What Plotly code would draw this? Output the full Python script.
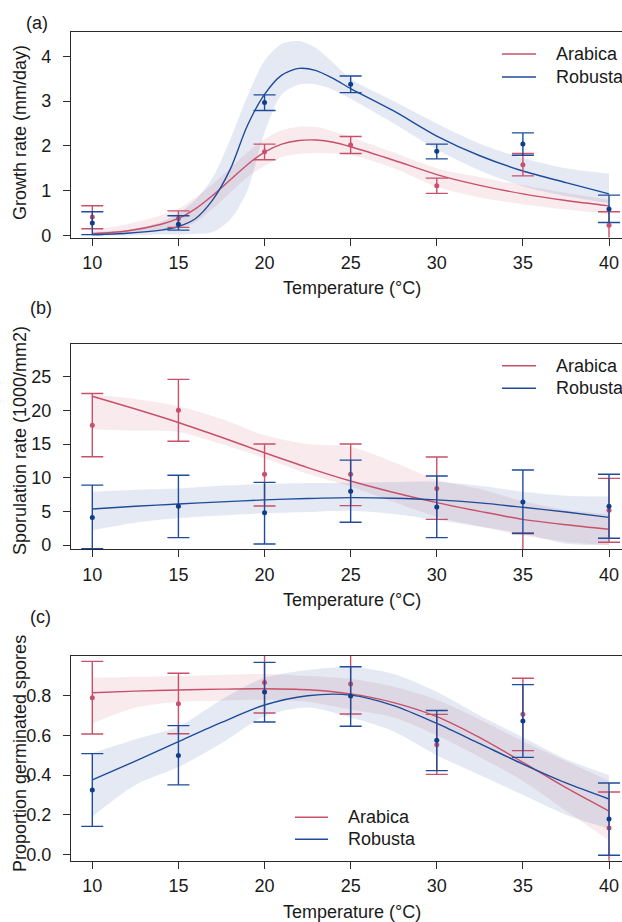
import plotly.graph_objects as go

# ---------------- data ----------------
TEMPS = [10, 15, 20, 25, 30, 35, 40]

# (a) growth rate (mm/day): observed means and interval limits
GROWTH_ARA_MEAN = [0.41, 0.38, 1.87, 2.02, 1.11, 1.58, 0.23]
GROWTH_ARA_LO = [0.15, 0.18, 1.69, 1.83, 0.94, 1.33, -0.10]
GROWTH_ARA_HI = [0.665, 0.55, 2.04, 2.21, 1.28, 1.83, 0.53]
GROWTH_ROB_MEAN = [0.28, 0.25, 2.97, 3.375, 1.88, 2.04, 0.59]
GROWTH_ROB_LO = [0.02, 0.12, 2.79, 3.19, 1.71, 1.79, 0.29]
GROWTH_ROB_HI = [0.53, 0.44, 3.14, 3.56, 2.04, 2.29, 0.90]

# (a) fitted curves and credible bands
FIT_T_A = [10, 12, 14, 15, 16, 17, 18, 19, 20, 21, 22, 23, 24, 25, 27.5, 30, 32.5, 35, 37.5, 40]
GROWTH_ROB_FIT = [0.02, 0.05, 0.12, 0.2, 0.38, 0.8, 1.47, 2.45, 3.15, 3.58, 3.73, 3.68, 3.5, 3.28, 2.78, 2.22, 1.78, 1.44, 1.18, 0.93]
GROWTH_ROB_BAND_HI = [0.08, 0.12, 0.3, 0.5, 0.8, 1.3, 2.14, 3.1, 3.9, 4.28, 4.34, 4.18, 3.85, 3.5, 3.0, 2.5, 2.05, 1.73, 1.5, 1.38]
GROWTH_ROB_BAND_LO = [0.0, 0.0, 0.02, 0.02, 0.04, 0.08, 0.35, 1.0, 2.3, 3.15, 3.37, 3.37, 3.25, 3.05, 2.5, 1.92, 1.45, 1.1, 0.88, 0.72]
GROWTH_ARA_FIT = [0.04, 0.1, 0.25, 0.38, 0.6, 0.9, 1.24, 1.58, 1.86, 2.04, 2.12, 2.13, 2.08, 1.98, 1.68, 1.36, 1.12, 0.93, 0.78, 0.66]
GROWTH_ARA_BAND_HI = [0.12, 0.25, 0.45, 0.6, 0.85, 1.15, 1.5, 1.85, 2.15, 2.35, 2.43, 2.42, 2.32, 2.2, 1.85, 1.5, 1.3, 1.12, 0.95, 0.8]
GROWTH_ARA_BAND_LO = [0.0, 0.03, 0.1, 0.15, 0.3, 0.6, 0.95, 1.3, 1.55, 1.75, 1.82, 1.84, 1.83, 1.8, 1.5, 1.09, 0.85, 0.7, 0.58, 0.48]

# (b) sporulation rate (1000/mm2)
SPOR_ARA_MEAN = [17.8, 20.0, 10.5, 10.5, 8.4, -2.0, 5.15]
SPOR_ARA_LO = [13.1, 15.4, 5.8, 5.85, 3.8, -5.8, 0.4]
SPOR_ARA_HI = [22.5, 24.6, 15.0, 15.0, 13.07, 1.8, 9.9]
SPOR_ROB_MEAN = [4.1, 5.75, 4.8, 7.97, 5.64, 6.39, 5.74]
SPOR_ROB_LO = [-0.55, 1.1, 0.15, 3.37, 1.1, 1.7, 1.0]
SPOR_ROB_HI = [8.9, 10.35, 9.3, 12.6, 10.25, 11.14, 10.5]

FIT_T_B = [10, 12.5, 15, 17.5, 20, 22.5, 25, 27.5, 30, 32.5, 35, 37.5, 40]
SPOR_ARA_FIT = [22.1, 20.2, 18.2, 16.0, 13.7, 11.5, 9.5, 7.8, 6.3, 5.0, 3.8, 3.0, 2.33]
SPOR_ARA_BAND_HI = [22.3, 21.7, 20.6, 18.7, 16.3, 15.0, 14.6, 12.3, 9.7, 8.3, 6.5, 5.2, 4.6]
SPOR_ARA_BAND_LO = [17.2, 17.0, 16.8, 15.0, 12.9, 10.6, 8.7, 6.4, 4.2, 2.8, 1.4, 0.5, 0.0]
SPOR_ROB_FIT = [5.35, 5.75, 6.1, 6.4, 6.7, 6.9, 7.03, 6.95, 6.7, 6.25, 5.6, 4.9, 4.1]
SPOR_ROB_BAND_HI = [7.9, 8.2, 8.4, 8.8, 9.06, 9.2, 9.26, 9.35, 9.4, 8.8, 7.9, 7.3, 7.2]
SPOR_ROB_BAND_LO = [2.2, 3.3, 4.0, 4.4, 4.7, 4.9, 5.1, 4.6, 3.7, 2.7, 1.7, 0.2, 0.0]

# (c) proportion germinated spores
GERM_ARA_MEAN = [0.79, 0.76, 0.866, 0.859, 0.553, 0.706, 0.133]
GERM_ARA_LO = [0.607, 0.608, 0.713, 0.708, 0.403, 0.523, -0.06]
GERM_ARA_HI = [0.973, 0.913, 1.01, 1.02, 0.706, 0.888, 0.314]
GERM_ROB_MEAN = [0.324, 0.499, 0.819, 0.798, 0.575, 0.672, 0.178]
GERM_ROB_LO = [0.141, 0.35, 0.667, 0.646, 0.422, 0.489, -0.005]
GERM_ROB_HI = [0.508, 0.649, 0.968, 0.946, 0.725, 0.856, 0.36]

FIT_T_C = [10, 12.5, 15, 17.5, 20, 22.5, 25, 27.5, 30, 32.5, 35, 37.5, 40]
GERM_ARA_FIT = [0.815, 0.823, 0.829, 0.833, 0.835, 0.83, 0.809, 0.765, 0.694, 0.588, 0.464, 0.336, 0.218]
GERM_ARA_BAND_HI = [0.89, 0.895, 0.90, 0.905, 0.91, 0.90, 0.885, 0.845, 0.78, 0.68, 0.57, 0.47, 0.37]
GERM_ARA_BAND_LO = [0.66, 0.74, 0.77, 0.775, 0.78, 0.77, 0.73, 0.69, 0.60, 0.49, 0.37, 0.22, 0.07]
GERM_ROB_FIT = [0.375, 0.47, 0.568, 0.665, 0.753, 0.80, 0.803, 0.75, 0.66, 0.558, 0.455, 0.36, 0.279]
GERM_ROB_BAND_HI = [0.51, 0.58, 0.645, 0.78, 0.89, 0.93, 0.945, 0.91, 0.82, 0.70, 0.59, 0.48, 0.40]
GERM_ROB_BAND_LO = [0.19, 0.35, 0.44, 0.56, 0.695, 0.74, 0.69, 0.62, 0.50, 0.40, 0.30, 0.20, 0.13]

SERIES = ["Arabica", "Robusta"]
X_TICKS = [10, 15, 20, 25, 30, 35, 40]
Y_TICKS_A = [0, 1, 2, 3, 4]
Y_TICKS_B = [0, 5, 10, 15, 20, 25]
Y_TICKS_C = [0.0, 0.2, 0.4, 0.6, 0.8]
X_TITLE = "Temperature (°C)"
Y_TITLES = ["Growth rate (mm/day)", "Sporulation rate (1000/mm2)", "Proportion germinated spores"]
PANEL_LABELS = ["(a)", "(b)", "(c)"]

# ---------------- style ----------------
W, H = 622, 922
FONT = "Arial, Liberation Sans, sans-serif"
FS = 18
TXT = "#1a1a1a"
RED = "#C8506A"
BLUE = "#1E4C9A"
RED_PT = "#C8506A"
BLUE_PT = "#0E3E8A"
RED_BAND = "rgba(200,80,106,0.12)"
BLUE_BAND = "rgba(30,76,154,0.12)"
AX = "#2b2b2b"
COLORS = [RED, BLUE]


def py(px):
    """pixel row -> paper y"""
    return 1 - px / H


def pxx(px):
    """pixel column -> paper x"""
    return px / W


# plot areas in pixels: (top, bottom)
PANELS = [(32.3, 237.5), (343.7, 549.0), (656.0, 860.7)]
Y_RANGES = [[-0.045, 4.536], [-0.594, 29.9], [-0.0323, 1.0003]]
X_RANGE = [8.763, 40.755]
X_LEFT = 71

fig = go.Figure()

panel_data = [
    (FIT_T_A,
     (GROWTH_ARA_MEAN, GROWTH_ARA_LO, GROWTH_ARA_HI, GROWTH_ARA_FIT, GROWTH_ARA_BAND_LO, GROWTH_ARA_BAND_HI),
     (GROWTH_ROB_MEAN, GROWTH_ROB_LO, GROWTH_ROB_HI, GROWTH_ROB_FIT, GROWTH_ROB_BAND_LO, GROWTH_ROB_BAND_HI)),
    (FIT_T_B,
     (SPOR_ARA_MEAN, SPOR_ARA_LO, SPOR_ARA_HI, SPOR_ARA_FIT, SPOR_ARA_BAND_LO, SPOR_ARA_BAND_HI),
     (SPOR_ROB_MEAN, SPOR_ROB_LO, SPOR_ROB_HI, SPOR_ROB_FIT, SPOR_ROB_BAND_LO, SPOR_ROB_BAND_HI)),
    (FIT_T_C,
     (GERM_ARA_MEAN, GERM_ARA_LO, GERM_ARA_HI, GERM_ARA_FIT, GERM_ARA_BAND_LO, GERM_ARA_BAND_HI),
     (GERM_ROB_MEAN, GERM_ROB_LO, GERM_ROB_HI, GERM_ROB_FIT, GERM_ROB_BAND_LO, GERM_ROB_BAND_HI)),
]

for i, (fit_t, ara, rob) in enumerate(panel_data):
    xa = "x" if i == 0 else f"x{i+1}"
    ya = "y" if i == 0 else f"y{i+1}"
    # bands
    for name, d, band in ((SERIES[0], ara, RED_BAND), (SERIES[1], rob, BLUE_BAND)):
        fig.add_trace(go.Scatter(x=fit_t, y=d[4], xaxis=xa, yaxis=ya, mode="lines",
                                 line=dict(width=0, shape="spline", smoothing=0.8),
                                 showlegend=False, hoverinfo="skip"))
        fig.add_trace(go.Scatter(x=fit_t, y=d[5], xaxis=xa, yaxis=ya, mode="lines",
                                 line=dict(width=0, shape="spline", smoothing=0.8),
                                 fill="tonexty", fillcolor=band,
                                 showlegend=False, hoverinfo="skip"))
    # fitted curves
    for name, d, col in ((SERIES[0], ara, RED), (SERIES[1], rob, BLUE)):
        fig.add_trace(go.Scatter(x=fit_t, y=d[3], xaxis=xa, yaxis=ya, mode="lines",
                                 line=dict(color=col, width=1.4, shape="spline", smoothing=0.8),
                                 name=name, showlegend=False))
    # observed points with interval bars
    for name, d, col, pcol in ((SERIES[0], ara, RED, RED_PT), (SERIES[1], rob, BLUE, BLUE_PT)):
        mean, lo, hi = d[0], d[1], d[2]
        fig.add_trace(go.Scatter(
            x=TEMPS, y=mean, xaxis=xa, yaxis=ya, mode="markers",
            marker=dict(color=pcol, size=5),
            error_y=dict(type="data", symmetric=False,
                         array=[h - m for h, m in zip(hi, mean)],
                         arrayminus=[m - l for m, l in zip(mean, lo)],
                         color=col, thickness=1.4, width=11),
            showlegend=False, name=name))

layout = dict(
    width=W, height=H,
    margin=dict(l=0, r=0, t=0, b=0, autoexpand=False),
    paper_bgcolor="white", plot_bgcolor="white",
    font=dict(family=FONT, size=FS, color=TXT),
    showlegend=False,
)

y_ticks = [Y_TICKS_A, Y_TICKS_B, Y_TICKS_C]
y_fmt = ["d", "d", ".1f"]
annotations = []
shapes = []
for i, (top, bot) in enumerate(PANELS):
    xk = "xaxis" if i == 0 else f"xaxis{i+1}"
    yk = "yaxis" if i == 0 else f"yaxis{i+1}"
    ya = "y" if i == 0 else f"y{i+1}"
    xa = "x" if i == 0 else f"x{i+1}"
    layout[xk] = dict(
        domain=[pxx(X_LEFT), 1.0], range=X_RANGE, anchor=ya,
        tickmode="array", tickvals=X_TICKS, ticks="outside", ticklen=7,
        tickwidth=1.2, tickcolor=AX, showline=True, linecolor=AX, linewidth=1.3,
        mirror=True, showgrid=False, zeroline=False, automargin=False,
        tickfont=dict(size=FS, family=FONT, color=TXT), ticklabelstandoff=2,
    )
    layout[yk] = dict(
        domain=[py(bot), py(top)], range=Y_RANGES[i], anchor=xa,
        tickmode="array", tickvals=y_ticks[i], tickformat=y_fmt[i],
        ticks="outside", ticklen=7, tickwidth=1.2, tickcolor=AX,
        showline=True, linecolor=AX, linewidth=1.3, mirror=False,
        showgrid=False, zeroline=False, automargin=False,
        tickfont=dict(size=FS, family=FONT, color=TXT), ticklabelstandoff=8,
    )

# panel labels, axis titles (pixel positions)
label_pos = [(24, 22.5), (28, 307.5), (28, 617)]
xtitle_y = [288, 600, 911.7]
ytitle_y = [133, 441, 754]
for i in range(3):
    annotations.append(dict(text=PANEL_LABELS[i], xref="paper", yref="paper",
                            x=pxx(label_pos[i][0]), y=py(label_pos[i][1]),
                            xanchor="left", yanchor="middle", showarrow=False,
                            font=dict(size=FS, family=FONT, color=TXT)))
    annotations.append(dict(text=X_TITLE, xref="paper", yref="paper",
                            x=pxx(352), y=py(xtitle_y[i]), xanchor="center", yanchor="middle",
                            showarrow=False, font=dict(size=FS, family=FONT, color=TXT)))
    annotations.append(dict(text=Y_TITLES[i], xref="paper", yref="paper",
                            x=pxx(20), y=py(ytitle_y[i]), xanchor="center", yanchor="middle",
                            textangle=-90, showarrow=False,
                            font=dict(size=FS, family=FONT, color=TXT)))

# legends: (line x0, line x1, text x, first row y, row gap) in pixels
LEGENDS = [(502, 536, 554, 54, 23), (502, 536, 554, 365.7, 22.6), (295, 328, 346, 817.3, 22)]
for (x0, x1, tx, y0, gap) in LEGENDS:
    for k, name in enumerate(SERIES):
        yy = y0 + k * gap
        shapes.append(dict(type="line", xref="paper", yref="paper",
                           x0=pxx(x0), x1=pxx(x1), y0=py(yy), y1=py(yy),
                           line=dict(color=COLORS[k], width=1.5)))
        annotations.append(dict(text=name, xref="paper", yref="paper",
                                x=pxx(tx), y=py(yy), xanchor="left", yanchor="middle",
                                showarrow=False, font=dict(size=FS, family=FONT, color=TXT)))

layout["annotations"] = annotations
layout["shapes"] = shapes

fig.update_layout(**layout)
# remove the page's default body margin so the figure fills the window exactly
fig.write_html("out.html",
               config={"displayModeBar": False},
               post_script="document.body.style.margin='0';document.body.style.overflow='hidden';")
